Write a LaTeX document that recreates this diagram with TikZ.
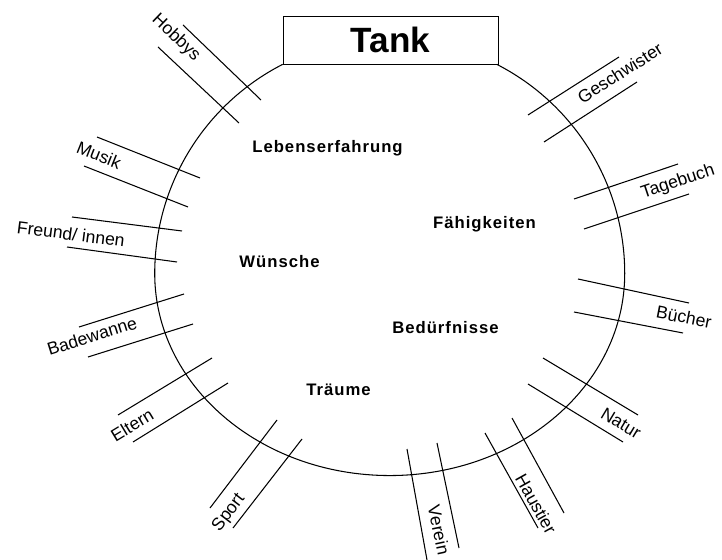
\documentclass[tikz,border=0pt]{standalone}
\usepackage{fontspec}
\setmainfont{Liberation Sans}
\usetikzlibrary{calc}

\tikzset{
  ring/.style={line width=0.6pt},
  spoke/.style={line width=0.6pt},
  outlabel/.style={font=\fontsize{10}{12}\selectfont, inner sep=0pt},
  inlabel/.style={font=\fontsize{9.5}{11}\selectfont\bfseries\addfontfeatures{LetterSpace=6}, inner sep=0pt, anchor=base},
}

\begin{document}
\begin{tikzpicture}[x=0.02cm, y=-0.02cm]
  \useasboundingbox (0,0) rectangle (722,560);
  \node[draw, fill=white, minimum width=4.3cm, minimum height=0.96cm, inner sep=0pt,
        font=\fontsize{20}{24}\selectfont\bfseries] (tank) at (390.5,40) {Tank};
  % the tank: round above, a bit flatter below
  \draw[ring] (tank.south west) arc[start angle=-117.1, end angle=-180, radius=235]
    arc[start angle=180, end angle=0, x radius=235, y radius=202]
    arc[start angle=0, end angle=-62.9, radius=235];

  \draw[spoke] (183,25) -- (261,100);
  \draw[spoke] (158,47) -- (239,123);
  \node[outlabel, rotate=-43.9] (hobbys) at (176,38) {Hobbys};

  \draw[spoke] (97,137) -- (200,178);
  \draw[spoke] (84,166) -- (188,207);
  \node[outlabel, rotate=-21.7] (musik) at (99,155) {Musik};

  \draw[spoke] (72,217) -- (182,231);
  \draw[spoke] (67,247) -- (177,262);
  \node[outlabel, rotate=-7.3] (freunde) at (71,234) {Freund/ innen};

  \draw[spoke] (79,327) -- (184,294);
  \draw[spoke] (88,357) -- (193,324);
  \node[outlabel, rotate=17.4] (badewanne) at (92,336) {Badewanne};

  \draw[spoke] (118,415) -- (212,358);
  \draw[spoke] (133,442) -- (228,383);
  \node[outlabel, rotate=31.2] (eltern) at (132,425) {Eltern};

  \draw[spoke] (210,508) -- (277,420);
  \draw[spoke] (233,528) -- (302,439);
  \node[outlabel, rotate=52.7] (sport) at (229,513) {Sport};

  \draw[spoke] (407,449) -- (427,560);
  \draw[spoke] (437,443) -- (459,548);
  \node[outlabel, rotate=-78] (verein) at (439,530) {Verein};

  \draw[spoke] (485,433) -- (538,528);
  \draw[spoke] (512,418) -- (564,513);
  \node[outlabel, rotate=-60.8] (haustier) at (536,504) {Haustier};

  \draw[spoke] (543,358) -- (638,415);
  \draw[spoke] (528,384) -- (623,442);
  \node[outlabel, rotate=-31] (natur) at (621,423) {Natur};

  \draw[spoke] (578,279) -- (689,303);
  \draw[spoke] (574,312) -- (683,333);
  \node[outlabel, rotate=-11] (buecher) at (684,317) {Bücher};

  \draw[spoke] (574,199) -- (678,164);
  \draw[spoke] (584,229) -- (689,194);
  \node[outlabel, rotate=18.6] (tagebuch) at (678,182) {Tagebuch};

  \draw[spoke] (528,115) -- (619,57);
  \draw[spoke] (544,142) -- (637,82);
  \node[outlabel, rotate=32.5] (geschwister) at (620,73) {Geschwister};

  % what is inside
  \node[inlabel] (leben) at (327.5,153) {Lebenserfahrung};
  \node[inlabel] (faehig) at (484.5,229) {Fähigkeiten};
  \node[inlabel] (wuensche) at (279.5,267) {Wünsche};
  \node[inlabel] (beduerf) at (445.5,333) {Bedürfnisse};
  \node[inlabel] (traeume) at (338.5,395) {Träume};
\end{tikzpicture}
\end{document}
